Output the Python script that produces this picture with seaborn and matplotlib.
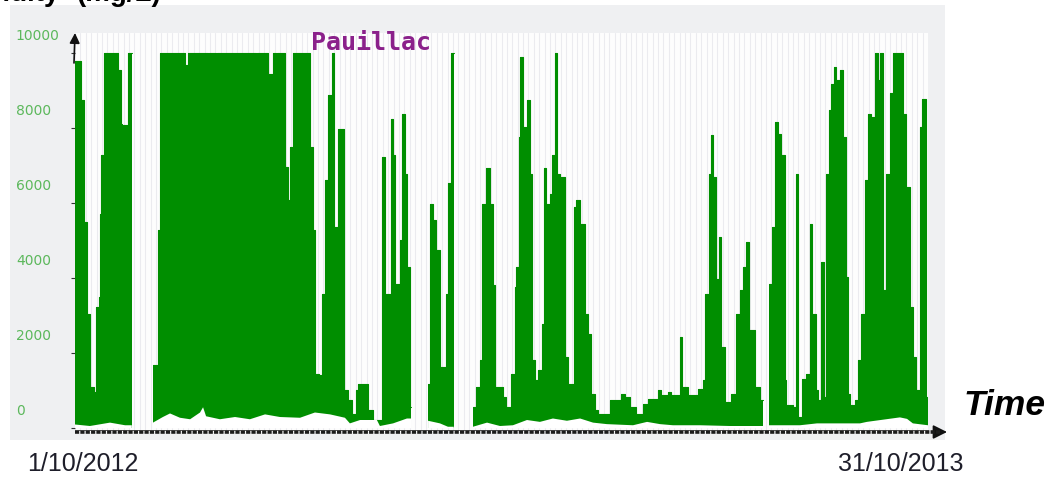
import numpy as np
import pandas as pd
import matplotlib
matplotlib.use("Agg")
import matplotlib.pyplot as plt
import matplotlib.transforms as mtransforms
from matplotlib.patches import Rectangle
import seaborn as sns

nan = np.nan

# Days since 1 Oct 2012 and the tidal maximum of turbidity reached from that day on
max_day = [
    0.0, 2.9, 4.2, 5.7, 6.8, 8.6, 9.9, 11.0, 11.4, 12.2,
    13.4, 19.9, 21.2, 21.8, 22.2, 24.2, 24.7, 26.3, 26.4, 36.1,
    38.4, 39.2, 50.8, 52.3, 61.6, 62.1, 65.4, 65.9, 84.0, 84.4,
    89.4, 91.7, 93.2, 93.7, 97.1, 98.6, 99.7, 100.9, 108.7, 110.2,
    111.0, 113.0, 114.5, 115.6, 117.2, 118.9, 119.9, 121.8, 124.4, 126.4,
    128.4, 130.3, 131.0, 135.7, 138.0, 142.2, 143.4, 146.2, 147.3, 148.3,
    150.4, 151.6, 152.7, 153.9, 155.0, 155.6, 155.7, 163.5, 164.4, 165.8,
    167.3, 168.9, 171.9, 172.7, 174.0, 175.4, 175.5, 184.3, 185.8, 187.4,
    188.5, 190.5, 192.0, 193.6, 194.6, 198.2, 199.7, 202.0, 203.6, 204.4,
    205.6, 206.2, 207.5, 208.7, 209.3, 210.6, 211.8, 212.9, 214.4, 216.4,
    217.0, 218.2, 219.8, 221.0, 222.1, 223.2, 224.7, 225.2, 226.8, 228.3,
    230.9, 232.1, 234.0, 236.0, 237.6, 239.1, 240.6, 242.2, 247.6, 253.0,
    254.5, 256.9, 259.9, 263.0, 265.3, 270.0, 271.5, 274.6, 276.1, 280.0,
    281.1, 283.9, 288.5, 290.8, 291.9, 293.4, 294.4, 295.6, 297.0, 298.1,
    299.3, 300.8, 303.9, 306.2, 307.8, 309.3, 310.6, 312.0, 315.0, 317.1,
    318.8, 318.9, 321.2, 322.8, 324.0, 325.5, 326.8, 328.6, 329.4, 332.5,
    333.7, 334.8, 336.8, 338.6, 340.2, 341.4, 343.0, 344.1, 345.6, 346.7,
    347.9, 349.1, 350.2, 351.3, 352.5, 354.1, 355.6, 356.9, 357.9, 359.0,
    361.1, 362.6, 364.1, 365.7, 367.2, 368.7, 370.3, 371.8, 372.8, 374.2,
    375.7, 377.2, 378.8, 383.4, 384.9, 386.5, 388.0, 389.6, 391.2, 392.4,
    393.9, 395.0,
]
max_val = [
    9800, 8750, 5500, 3060, 1100, 970, 3240, 3500, 5720, 7300,
    10000, 9550, 8120, 2210, 8100, 3240, 10000, 10000, nan, 1680,
    5280, 10000, 9680, 10000, 9600, 10000, 9100, 10000, 7800, 10000,
    9460, 10000, 7460, 10000, 6970, 6080, 7500, 10000, 7500, 5280,
    1460, 1410, 3590, 6610, 8880, 10000, 5370, 7990, 1010, 750,
    390, 1010, 1190, 480, 210, 7240, 3590, 8260, 7280, 3860,
    5010, 8390, 6790, 4300, 570, 570, nan, 1190, 5990, 5550,
    4750, 1640, 3590, 6530, 10000, 10000, nan, 570, 1100, 1810,
    5990, 6930, 5990, 3810, 1100, 840, 570, 1460, 3770, 4300,
    7770, 9900, 8040, 7150, 8750, 6790, 1810, 1280, 1550, 2790,
    6930, 5990, 6260, 7280, 10000, 6790, 3590, 6700, 1900, 1190,
    5900, 6080, 5460, 3060, 2520, 920, 480, 390, 750, 920,
    840, 570, 390, 660, 790, 1010, 880, 970, 880, 2440,
    1100, 880, 1060, 1280, 3590, 6790, 7810, 6700, 3990, 5100,
    2170, 700, 920, 3060, 3680, 4300, 4970, 2610, 1100, 750,
    750, nan, 3860, 5370, 8170, 7860, 7280, 1280, 610, 570,
    6790, 300, 1320, 1460, 5460, 3060, 1010, 750, 4440, 840,
    6790, 8480, 9190, 9640, 9280, 9550, 7770, 4040, 920, 610,
    750, 1810, 3060, 6610, 8390, 8300, 10000, 9280, 10000, 3680,
    6790, 8930, 10000, 8390, 6440, 3240, 1900, 1010, 8040, 8790,
    840, 840,
]

# Tidal minimum of turbidity
min_day = [
    0.0, 6.9, 16.2, 23.2, 26.3, 26.4, 36.1, 40.7, 44.0, 48.6,
    53.3, 57.9, 59.3, 60.7, 67.1, 74.1, 81.0, 88.0, 94.9, 104.2,
    111.1, 118.1, 125.0, 127.3, 132.0, 139.8, 141.2, 147.3, 153.7, 155.6,
    155.7, 163.5, 169.0, 172.7, 175.4, 175.5, 184.3, 190.8, 196.8, 202.8,
    209.3, 215.3, 221.3, 227.8, 233.9, 239.9, 246.3, 258.4, 264.9, 270.9,
    276.9, 289.4, 303.3, 318.8, 318.9, 321.2, 335.7, 343.6, 363.5, 366.7,
    382.0, 385.3, 388.0, 395.0,
]
min_val = [
    100, 60, 150, 80, 80, nan, 150, 300, 395, 280,
    240, 420, 560, 320, 240, 300, 240, 370, 300, 280,
    420, 370, 280, 130, 220, 220, 60, 130, 260, 260,
    nan, 200, 130, 40, 40, nan, 40, 150, 60, 80,
    220, 170, 260, 200, 260, 150, 110, 80, 170, 110,
    80, 80, 60, 60, nan, 80, 80, 130, 130, 170,
    290, 250, 130, 80,
]

y_ticks = [0, 2000, 4000, 6000, 8000, 10000]
y_tick_labels = ["0", "2000", "4000", "6000", "8000", "10000"]
station = "Pauillac"
start_label = "1/10/2012"
end_label = "31/10/2013"
x_title = "Time"
y_title = ("Turbidity", "(mg/L)")
span_days = 395

sns.set_theme(style="white")
plt.rcParams["font.family"] = ["DejaVu Sans"]
plt.rcParams["lines.scale_dashes"] = False

W, H = 1059, 478
fig = plt.figure(figsize=(W / 100, H / 100), dpi=100)
fig.patch.set_facecolor("white")

# light grey chart panel
fig.patches.append(Rectangle((10 / W, 38 / H), 935 / W, 435 / H,
                             transform=fig.transFigure, facecolor="#eff0f2",
                             edgecolor="none", zorder=-1))

ax = fig.add_axes([75 / W, 46 / H, 853 / W, 399 / H])
ax.set_facecolor("#fdfdfd")
ax.set_xlim(0, span_days)
ax.set_ylim(-100, 10542)

green = "#008e00"
hi = pd.DataFrame({"day": max_day, "turb": max_val})
hi["seg"] = hi["turb"].isna().cumsum()
ax.fill_between(hi["day"], 0, hi["turb"], step="post", color=green,
                linewidth=0, zorder=2)
sns.lineplot(data=hi.dropna(), x="day", y="turb", units="seg", estimator=None,
             drawstyle="steps-post", color=green, linewidth=0.8, ax=ax,
             legend=False, zorder=2.2)

lo = pd.DataFrame({"day": min_day, "turb": min_val})
ax.fill_between(lo["day"], 0, lo["turb"], color="white", linewidth=0, zorder=2.4)

ax.set_xlabel("")
ax.set_ylabel("")

# dense vertical grid
ax.set_xticks(np.arange(0, span_days, 2.5))
ax.set_xticklabels([])
ax.tick_params(axis="x", length=0)
ax.grid(axis="x", color="#ebebef", linewidth=0.75)
ax.grid(axis="y", visible=False)
ax.set_axisbelow(True)

# y ticks: left-aligned green labels sitting above their grid level
ax.set_yticks(y_ticks, y_tick_labels)
ax.tick_params(axis="y", left=True, length=3, width=0.8, color="#333333",
               direction="out", pad=39.6, labelsize=10, labelcolor="#5cb85c")
lift = mtransforms.ScaledTranslation(0, 19 / 100, fig.dpi_scale_trans)
for lab in ax.get_yticklabels():
    lab.set_horizontalalignment("left")
    lab.set_transform(lab.get_transform() + lift)

for s in ax.spines.values():
    s.set_visible(False)

# dashed time axis with arrow
ax.plot([0, 1.015], [0, 0], transform=ax.transAxes, clip_on=False,
        color="#1c1c1c", linewidth=2.6, dashes=(3.0, 0.85), zorder=5)
ax.plot([0, 1.0], [0.006, 0.006], transform=ax.transAxes, clip_on=False,
        color="#3a3a3a", linewidth=0.6, zorder=5)
ax.annotate("", xy=(947 / W, 46 / H), xytext=(932 / W, 46 / H),
            xycoords="figure fraction", textcoords="figure fraction",
            arrowprops=dict(arrowstyle="-|>,head_length=0.7,head_width=0.35",
                            color="#111111", lw=1.2, shrinkA=0, shrinkB=0))
ax.annotate("", xy=(75 / W, 445 / H), xytext=(74 / W, 415 / H),
            xycoords="figure fraction", textcoords="figure fraction",
            arrowprops=dict(arrowstyle="-|>,head_length=0.5,head_width=0.25",
                            color="#111111", lw=1.2, shrinkA=0, shrinkB=0))

fig.text(311 / W, (H - 50) / H, station, family="DejaVu Sans Mono",
         weight="bold", size=18, color="#8b218b", va="baseline", zorder=5)
fig.text(963 / W, (H - 415) / H, x_title, family="Liberation Sans",
         weight="bold", style="italic", size=25.5, color="black",
         va="baseline", zorder=5)
fig.text(27 / W, (H - 471) / H, start_label, family="Liberation Sans",
         size=18, color="#1e1e2a", va="baseline", zorder=5)
fig.text(838 / W, (H - 471) / H, end_label, family="Liberation Sans",
         size=18, color="#1e1e2a", va="baseline", zorder=5)
fig.text(60 / W, (H - 1) / H, y_title[0], family="Liberation Sans",
         weight="bold", size=20, color="black", ha="right", va="baseline",
         zorder=5)
fig.text(77 / W, (H - 1) / H, y_title[1], family="Liberation Sans",
         weight="bold", size=20, color="black", ha="left", va="baseline",
         zorder=5)

fig.savefig("out.png", dpi=100)
